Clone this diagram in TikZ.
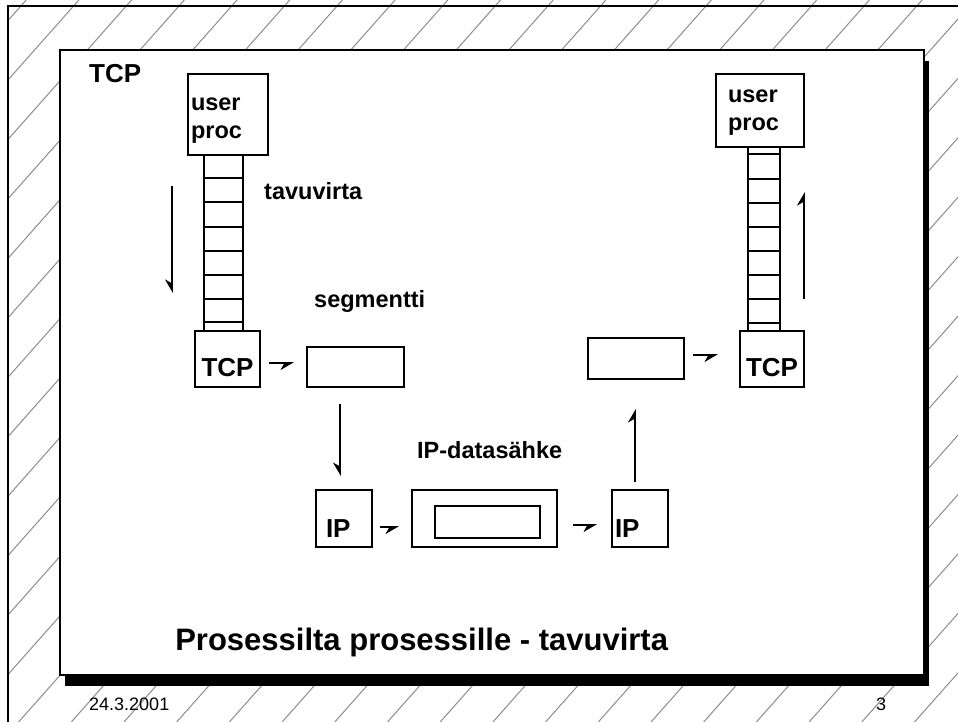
\documentclass[tikz,border=0pt]{standalone}
\usepackage{fontspec}
\setmainfont{Liberation Sans}
\usetikzlibrary{arrows.meta}

\begin{document}
\begin{tikzpicture}[x=1pt,y=-1pt,
    box/.style={shape=rectangle,draw=black,line width=1.8pt,inner sep=0pt},
    big/.style={font=\fontsize{26}{30}\selectfont\bfseries},
    txt/.style={font=\fontsize{23.5}{28}\selectfont\bfseries},
    lbl/.style={inner sep=0pt,anchor=base west},
    rung/.style={line width=1.8pt},
    arr/.style={line width=1.8pt,-{Stealth[harpoon,swap,length=12pt,width=14pt]}},
    arrup/.style={line width=1.8pt,-{Stealth[harpoon,length=12pt,width=14pt]}},
    hatch/.style={draw=black!45,line width=1pt}]
  \useasboundingbox (0,0) rectangle (958,722);
  \begin{scope}
    \clip (8,0) rectangle (958,722);
    \foreach \k [evaluate=\k as \xo using 237+52.7*\k] in {-5,...,26}
      \draw[hatch] (\xo,0) -- ++(-640,722);
  \end{scope}
  \draw[line width=1.5pt] (8,722) -- (8,6) -- (958,6);
  \fill[black] (65,61) rectangle (929,686);
  \draw[fill=white,line width=1.5pt] (60,50) rectangle (924,675);

  \node[lbl,big] (tcpLbl) at (89,83) {TCP};

  \draw[rung] (204,155) rectangle (243,331);
  \foreach \y in {178,202,227,251,275,299,322}
    \draw[rung] (204,\y) -- (243,\y);
  \draw[rung] (748,147) rectangle (780,331);
  \foreach \y in {154,179,203,227,251,275,299,323}
    \draw[rung] (748,\y) -- (780,\y);

  \node[box,txt,align=left,text width=74pt,inner xsep=3pt,text height=36.5pt,text depth=44.5pt] (userL) at (228,114.5) {user\\proc};
  \node[box,txt,align=left,text width=64pt,inner xsep=12pt,text height=29pt,text depth=44pt] (userR) at (760,110.5) {user\\proc};

  \node[box,big,minimum width=65pt,text height=45.5pt,text depth=10.5pt] (tcpL) at (227.5,359) {TCP};
  \node[box,big,minimum width=64pt,text height=45.5pt,text depth=10.5pt] (tcpR) at (772,359) {TCP};

  \node[box,minimum width=97pt,minimum height=40pt] (segL) at (355.5,367) {};
  \node[box,minimum width=96pt,minimum height=41pt] (segR) at (636,358.5) {};

  \node[box,big,align=left,text width=36pt,inner xsep=10pt,text height=47pt,text depth=10pt] (ipL) at (344,518.5) {IP};
  \node[box,big,align=left,text width=50pt,inner xsep=3pt,text height=47pt,text depth=10pt] (ipR) at (640,518.5) {IP};
  \node[box,minimum width=145pt,minimum height=57pt] (dg) at (484.5,518.5) {};
  \node[box,minimum width=105pt,minimum height=32pt] (pkt) at (487.5,522) {};

  \node[lbl,txt] (tavu) at (264,200) {tavuvirta};
  \node[lbl,txt] (segLbl) at (314,307) {segmentti};
  \node[lbl,txt] (dgLbl) at (417,458) {IP-datasähke};

  \coordinate (dnA) at (172,186);
  \coordinate (dnB) at (172,293);
  \draw[arr] (dnA) -- (dnB);
  \coordinate (upA) at (804,299);
  \coordinate (upB) at (804,192);
  \draw[arrup] (upA) -- (upB);

  \draw[arr,shorten <=8pt,shorten >=12pt] ([yshift=-4pt]tcpL.east) -- ([yshift=-4pt]tcpL.east -| segL.west);
  \draw[arr,shorten <=16pt,shorten >=13pt] ([xshift=-15.5pt]segL.south) -- ([xshift=-15.5pt]segL.south |- ipL.north);
  \draw[arr,shorten <=7pt,shorten >=12pt] ([yshift=-8.5pt]ipL.east) -- ([yshift=-8.5pt]ipL.east -| dg.west);
  \draw[arr,shorten <=15pt,shorten >=14pt] ([yshift=-6.5pt]dg.east) -- ([yshift=-6.5pt]dg.east -| ipR.west);
  \draw[arrup,shorten <=7pt,shorten >=29pt] ([xshift=-5pt]ipR.north) -- ([xshift=-5pt]ipR.north |- segR.south);
  \draw[arr,shorten <=8pt,shorten >=21pt] ([yshift=3.5pt]segR.east) -- ([yshift=3.5pt]segR.east -| tcpR.west);

  \node[inner sep=0pt,anchor=base,font=\fontsize{31}{36}\selectfont\bfseries] (title) at (421.7,650) {Prosessilta prosessille - tavuvirta};
  \node[lbl,font=\fontsize{18}{22}\selectfont] (date) at (89,710) {24.3.2001};
  \node[lbl,font=\fontsize{18}{22}\selectfont] (page) at (876,710) {3};
\end{tikzpicture}
\end{document}
